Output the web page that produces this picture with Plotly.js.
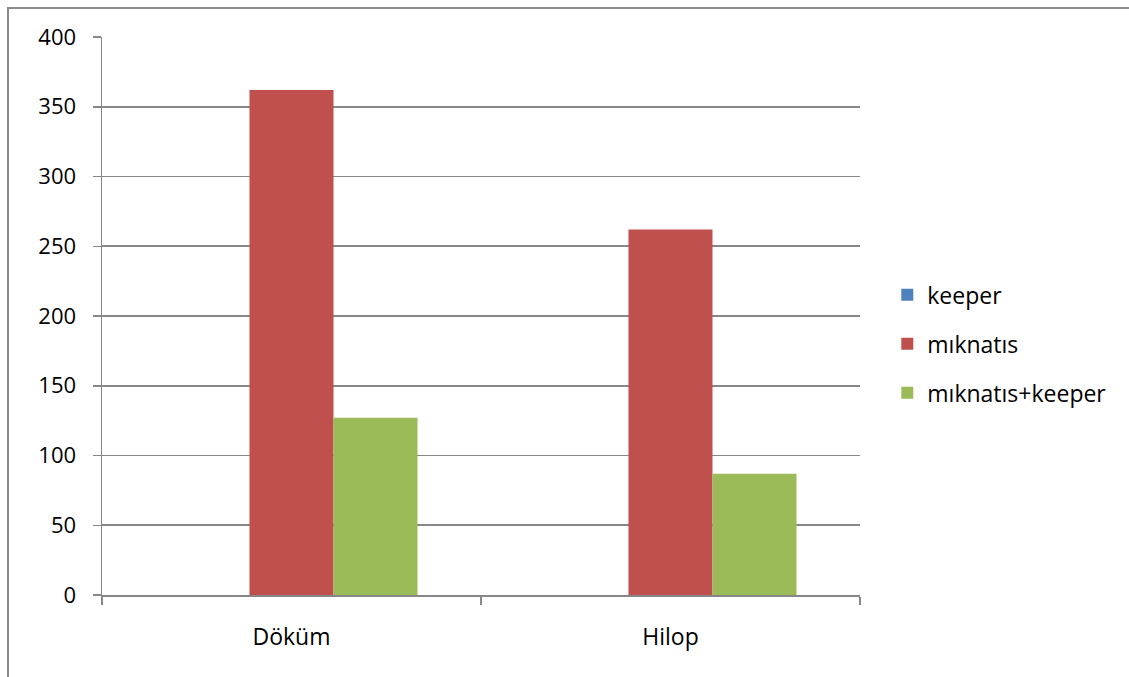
<!DOCTYPE html>
<html>
<head>
<meta charset="utf-8">
<script src="https://cdn.plot.ly/plotly-3.0.1.min.js"></script>
<style>
  html, body { margin: 0; padding: 0; background: #fff; }
  #wrap { position: relative; width: 1129px; height: 677px; }
  #chart { width: 1129px; height: 677px; }
  #frame {
    position: absolute; left: 7px; top: 7px; right: 0; bottom: 0;
    border-left: 2px solid #8c8c8c; border-top: 2px solid #8c8c8c;
    pointer-events: none;
  }
</style>
</head>
<body>
<div id="wrap">
  <div id="chart"></div>
  <div id="frame"></div>
</div>
<script>
// Categories and series values
const categories = ["Döküm", "Hilop"];
const keeperValues = [0, 0];
const miknatisValues = [362, 262];
const miknatisKeeperValues = [127, 87];
const seriesNames = ["keeper", "mıknatıs", "mıknatıs+keeper"];
const yTickValues = [0, 50, 100, 150, 200, 250, 300, 350, 400];

const colors = ["#4F81BD", "#C0504D", "#9BBB59"];
const fontFamily = "Open Sans, Noto Sans, sans-serif";

const traces = [keeperValues, miknatisValues, miknatisKeeperValues].map((vals, i) => ({
  type: "bar",
  name: seriesNames[i],
  legendgroup: "g" + i,
  x: categories,
  y: vals,
  marker: { color: colors[i], line: { width: 0 } },
  hoverinfo: "x+y+name"
}));

const layout = {
  width: 1129,
  height: 677,
  paper_bgcolor: "#ffffff",
  plot_bgcolor: "#ffffff",
  margin: { l: 102, r: 269, t: 37, b: 82, pad: 0 },
  barmode: "group",
  bargap: 0.335,
  bargroupgap: 0,
  font: { family: fontFamily, size: 22, color: "#000000" },
  xaxis: {
    type: "category",
    showline: true,
    linecolor: "#878787",
    linewidth: 1.5,
    ticks: "outside",
    tickson: "boundaries",
    ticklen: 8,
    tickcolor: "#878787",
    tickwidth: 1.5,
    ticklabelstandoff: 21,
    showgrid: false,
    zeroline: false,
    tickfont: { family: fontFamily, size: 23, color: "#000000" }
  },
  yaxis: {
    range: [0, 400],
    tickvals: yTickValues,
    ticktext: yTickValues.map(String),
    showline: true,
    linecolor: "#878787",
    linewidth: 1.5,
    ticks: "outside",
    ticklen: 8,
    tickcolor: "#878787",
    tickwidth: 1.5,
    ticklabelstandoff: 12,
    showgrid: true,
    gridcolor: "#878787",
    gridwidth: 1.6,
    zeroline: false,
    tickfont: { family: fontFamily, size: 22, color: "#000000" }
  },
  legend: {
    x: 1.036,
    xanchor: "left",
    y: 0.45,
    yanchor: "middle",
    traceorder: "grouped",
    tracegroupgap: 16,
    itemwidth: 30,
    font: { family: fontFamily, size: 23, color: "#000000" },
    bgcolor: "rgba(0,0,0,0)"
  },
  showlegend: true
};

Plotly.newPlot("chart", traces, layout, { displayModeBar: false, staticPlot: true });
</script>
</body>
</html>
